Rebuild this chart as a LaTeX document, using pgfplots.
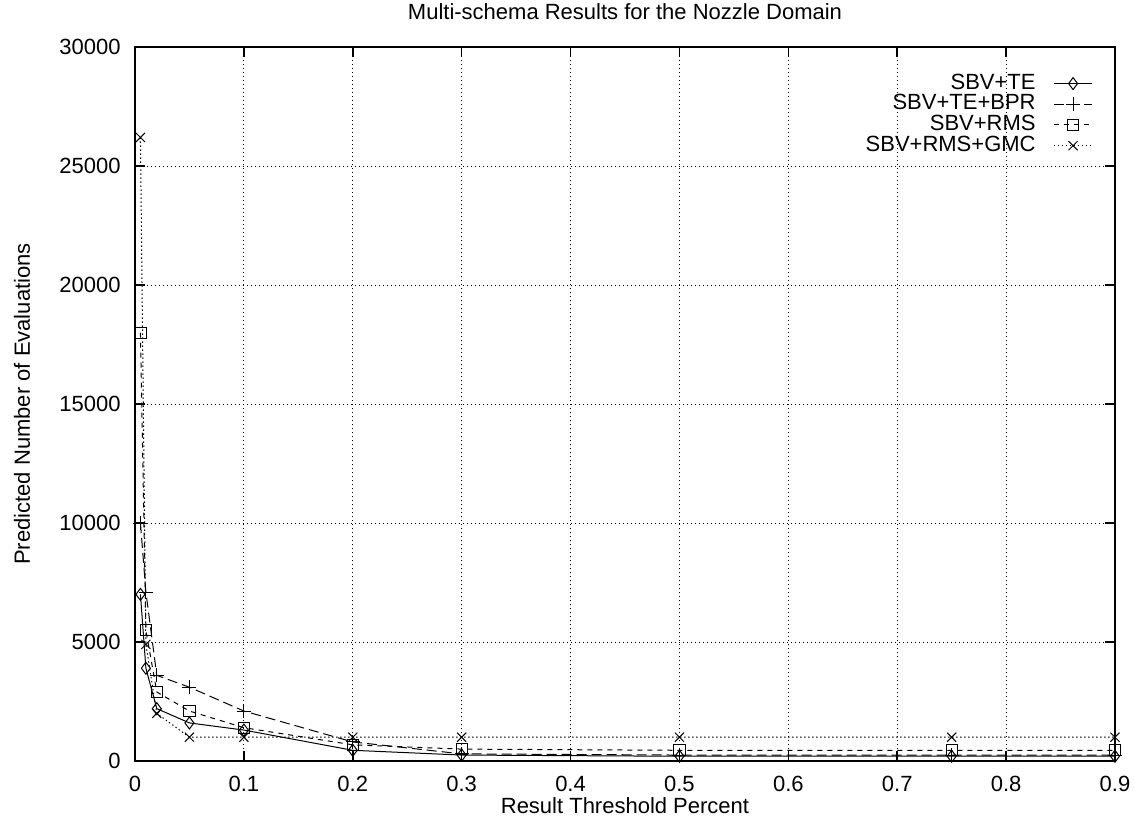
\documentclass[border=0pt]{standalone}
\usepackage{pgfplots}
\pgfplotsset{compat=1.18}
\usepackage{fontspec}
\setmainfont{Liberation Sans}
\begin{document}
\fontsize{11}{13}\selectfont
\begin{tikzpicture}
\useasboundingbox (-67.5pt,-30pt) rectangle (500pt,380.5pt);
\begin{axis}[
  scale only axis,
  width=490pt, height=357pt,
  at={(0,0)}, anchor=south west,
  xmin=0, xmax=0.9, ymin=0, ymax=30000,
  xtick={0,0.1,...,0.9},
  xticklabels={0,0.1,0.2,0.3,0.4,0.5,0.6,0.7,0.8,0.9},
  ytick={0,5000,10000,15000,20000,25000,30000},
  scaled y ticks=false,
  /pgf/number format/assume math mode=true,
  yticklabel={\pgfmathprintnumber[fixed,1000 sep={}]{\tick}},
  tick align=inside,
  xtick pos=both, ytick pos=both,
  major tick length=5pt,
  every tick/.style={black, line width=0.8pt},
  axis line style={line width=0.8pt},
  grid=major,
  major grid style={black, line width=0.4pt, dash pattern=on 0.5pt off 1.5pt},
  yticklabel style={inner sep=0pt, anchor=east, xshift=-7pt},
  xticklabel style={inner sep=0pt, anchor=center, yshift=-11.7pt},
  title={Multi-schema Results for the Nozzle Domain},
  title style={at={(axis description cs:0.5,1)}, anchor=center, yshift=11.5pt, inner sep=0pt},
  xlabel={Result Threshold Percent},
  xlabel style={at={(axis description cs:0.5,-0.063)}, anchor=center, inner sep=0pt},
  ylabel={Predicted Number of Evaluations},
  ylabel style={at={(axis description cs:-0.1153,0.5)}, anchor=center, inner sep=0pt},
  legend plot pos=right,
  legend cell align=right,
  legend image code/.code={\draw[mark repeat=2, mark phase=2, #1] plot coordinates {(0pt,0pt) (9.5pt,0pt) (19pt,0pt)};},
  legend style={draw=none, fill=none, inner sep=0pt, column sep=9pt,
    at={(axis description cs:1,1)}, xshift=-11pt, yshift=-12.9pt, anchor=north east,
    nodes={inner sep=0pt, text height=8pt, text depth=2.35pt}},
]
\addplot[black, line width=0.5pt, mark=diamond, mark size=3pt, mark options={solid}]
  coordinates {(0.005,7000) (0.01,3900) (0.02,2200) (0.05,1600) (0.1,1300) (0.2,450) (0.3,250) (0.5,200) (0.75,200) (0.9,200)};
\addlegendentry{SBV+TE}
\addplot[black, line width=0.5pt, dash pattern=on 5pt off 2.5pt, mark=+, mark size=3.5pt, mark options={solid}]
  coordinates {(0.005,10000) (0.01,7100) (0.02,3600) (0.05,3100) (0.1,2100) (0.2,800) (0.3,300) (0.5,250) (0.75,250) (0.9,250)};
\addlegendentry{SBV+TE+BPR}
\addplot[black, line width=0.5pt, dash pattern=on 2.5pt off 2.5pt, mark=square, mark size=2.8pt, mark options={solid}]
  coordinates {(0.005,18000) (0.01,5500) (0.02,2900) (0.05,2100) (0.1,1400) (0.2,680) (0.3,500) (0.5,450) (0.75,450) (0.9,450)};
\addlegendentry{SBV+RMS}
\addplot[black, line width=0.5pt, dash pattern=on 0.7pt off 1.3pt, mark=x, mark size=3.2pt, mark options={solid}]
  coordinates {(0.005,26200) (0.01,4900) (0.02,2000) (0.05,1000) (0.1,1000) (0.2,1000) (0.3,1000) (0.5,1000) (0.75,1000) (0.9,1000)};
\addlegendentry{SBV+RMS+GMC}
\end{axis}
\end{tikzpicture}
\end{document}
